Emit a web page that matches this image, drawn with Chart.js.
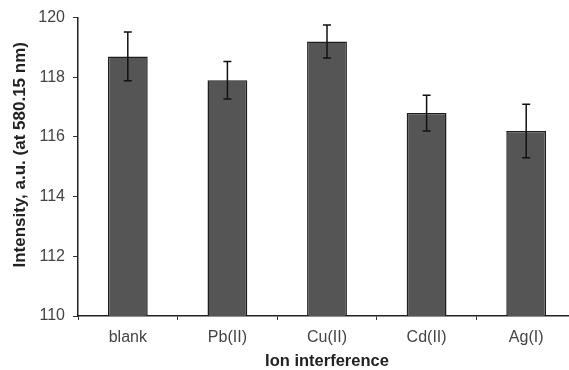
<!DOCTYPE html>
<html>
<head>
<meta charset="utf-8">
<script src="https://cdn.jsdelivr.net/npm/chart.js@4/dist/chart.umd.min.js"></script>
<style>
  html, body { margin: 0; padding: 0; background: #fff; overflow: hidden; width: 569px; height: 370px; }
  #wrap { width: 569px; height: 370px; position: relative; overflow: hidden; }
  #c { position: absolute; left: 0; top: 0; width: 578px; height: 370px; }
</style>
</head>
<body>
<div id="wrap"><canvas id="c" width="578" height="370"></canvas></div>
<script>
const categories = ["blank", "Pb(II)", "Cu(II)", "Cd(II)", "Ag(I)"];
const intensity = [118.7, 117.9, 119.2, 116.8, 116.2];
const errors = [0.82, 0.63, 0.55, 0.6, 0.9];
const yTicks = [110, 112, 114, 116, 118, 120];
const yTitle = 'Intensity, a.u. (at 580.15 nm)';
const xTitle = 'Ion interference';

const FONT = "'Liberation Sans', Arial, sans-serif";

const errorBarPlugin = {
  id: 'errorBars',
  afterDatasetsDraw(chart) {
    const ctx = chart.ctx;
    const meta = chart.getDatasetMeta(0);
    const y = chart.scales.y;
    ctx.save();
    ctx.strokeStyle = '#111';
    ctx.lineWidth = 1.5;
    meta.data.forEach((bar, i) => {
      const v = intensity[i], e = errors[i];
      const top = y.getPixelForValue(v + e);
      const bot = y.getPixelForValue(v - e);
      const x = bar.x;
      ctx.beginPath();
      ctx.moveTo(x, top); ctx.lineTo(x, bot);
      ctx.moveTo(x - 4, top); ctx.lineTo(x + 4, top);
      ctx.moveTo(x - 4, bot); ctx.lineTo(x + 4, bot);
      ctx.stroke();
    });
    ctx.restore();
  }
};

// Y-axis title, drawn slightly above the chart-area centre as in the reference
const yTitlePlugin = {
  id: 'yTitle',
  afterDraw(chart) {
    const ctx = chart.ctx;
    const area = chart.chartArea;
    ctx.save();
    ctx.translate(20.5, (area.top + area.bottom) / 2 - 12);
    ctx.rotate(-Math.PI / 2);
    ctx.font = "bold 17px " + FONT;
    ctx.fillStyle = '#222';
    ctx.textAlign = 'center';
    ctx.textBaseline = 'middle';
    ctx.fillText(yTitle, 0, 0);
    ctx.restore();
  }
};

new Chart(document.getElementById('c'), {
  type: 'bar',
  data: {
    labels: categories,
    datasets: [{
      data: intensity,
      backgroundColor: '#555555',
      borderColor: '#1e1e1e',
      borderWidth: 1.5,
      barPercentage: 0.4,
      categoryPercentage: 1.0
    }]
  },
  options: {
    responsive: false,
    animation: false,
    devicePixelRatio: 1,
    layout: { padding: { top: 16, left: 0, right: 2, bottom: 0 } },
    plugins: { legend: { display: false }, tooltip: { enabled: false } },
    scales: {
      x: {
        afterFit(axis) { axis.height = 54; },
        grid: { drawOnChartArea: false, tickLength: 4, color: '#333', offset: true },
        border: { color: '#222', width: 1.5 },
        ticks: { color: '#444', font: { family: FONT, size: 16 }, padding: 8 },
        title: {
          display: true, text: xTitle, color: '#222',
          font: { family: FONT, size: 16.5, weight: 'bold', lineHeight: 1 },
          padding: { top: 0, bottom: 0 }
        }
      },
      y: {
        min: 110, max: 120,
        afterFit(axis) { axis.width = 78; },
        afterBuildTicks(axis) { axis.ticks = yTicks.map(v => ({ value: v })); },
        grid: { drawOnChartArea: false, tickLength: 5, color: '#333' },
        border: { color: '#222', width: 1.5 },
        ticks: { color: '#444', font: { family: FONT, size: 16 }, padding: 8 },
        title: { display: false }
      }
    }
  },
  plugins: [errorBarPlugin, yTitlePlugin]
});
</script>
</body>
</html>
